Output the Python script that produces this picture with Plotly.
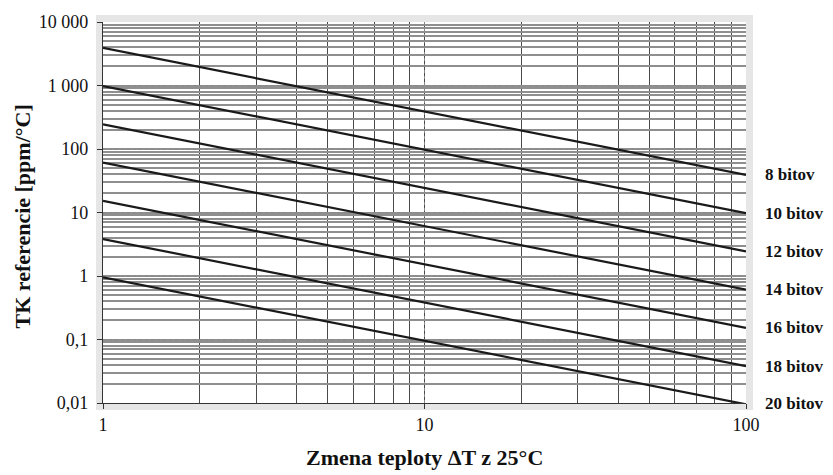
import math
import plotly.graph_objects as go

# Temperature change from 25 °C (x) and reference temperature coefficient (y)
delta_t = [1, 100]
bits_labels = ["8 bitov", "10 bitov", "12 bitov", "14 bitov", "16 bitov", "18 bitov", "20 bitov"]
tk_8 = [3906, 39.06]
tk_10 = [976.6, 9.766]
tk_12 = [244.1, 2.441]
tk_14 = [61.04, 0.6104]
tk_16 = [15.26, 0.1526]
tk_18 = [3.815, 0.03815]
tk_20 = [0.9537, 0.009537]
series = [tk_8, tk_10, tk_12, tk_14, tk_16, tk_18, tk_20]

y_tickvals = [0.01, 0.1, 1, 10, 100, 1000, 10000]
y_ticktext = ["0,01", "0,1", "1", "10", "100", "1 000", "10 000"]
x_tickvals = [1, 10, 100]
x_ticktext = ["1", "10", "100"]
y_range = [-2, 4]

FONT = "Liberation Serif, Times New Roman, serif"

W, H = 833, 475
ml, mr, mt, mb = 103, 87, 18, 72
pw, ph = W - ml - mr, H - mt - mb

fig = go.Figure()
for name, vals in zip(bits_labels, series):
    fig.add_trace(go.Scatter(
        x=delta_t, y=vals, mode="lines", name=name,
        line=dict(color="#1a1a1a", width=2.2), showlegend=False,
    ))

# Series labels to the right of the plot, level with each line's end value
for name, vals in zip(bits_labels, series):
    ypos = (math.log10(vals[-1]) - y_range[0]) / (y_range[1] - y_range[0])
    fig.add_annotation(
        x=1, xref="paper", y=max(ypos, 0.0), yref="paper",
        text="<b>" + name + "</b>", showarrow=False,
        xanchor="left", yanchor="middle", xshift=17,
        font=dict(family=FONT, size=17, color="#111"),
    )

# Axis titles
fig.add_annotation(
    x=0.5, xref="paper", y=(403 - 458) / ph, yref="paper",
    text="<b>Zmena teploty ΔT z 25°C</b>", showarrow=False,
    xanchor="center", yanchor="middle",
    font=dict(family=FONT, size=22, color="#111"),
)
fig.add_annotation(
    x=(22 - ml) / pw, xref="paper", y=0.5, yref="paper", yshift=-4,
    text="<b>TK referencie [ppm/°C]</b>", showarrow=False, textangle=-90,
    xanchor="center", yanchor="middle",
    font=dict(family=FONT, size=22, color="#111"),
)

# Light grey frame around the plot area
pad = 7
fig.add_shape(
    type="rect", xref="paper", yref="paper", layer="below",
    x0=-pad / pw, x1=1 + pad / pw, y0=-pad / ph, y1=1 + pad / ph,
    line=dict(width=0), fillcolor="#e6e6e6",
)
fig.add_shape(
    type="rect", xref="paper", yref="paper", layer="below",
    x0=0, x1=1, y0=0, y1=1, line=dict(width=0), fillcolor="white",
)

fig.update_xaxes(
    type="log", range=[0, 2],
    tickvals=x_tickvals, ticktext=x_ticktext,
    tickfont=dict(family=FONT, size=18, color="#111"),
    showline=True, linecolor="#333", linewidth=1.2,
    ticks="outside", ticklen=5, tickcolor="#333", ticklabelstandoff=0,
    showgrid=True, gridcolor="#888", gridwidth=1, griddash="dot",
    minor=dict(dtick="D1", showgrid=True, gridcolor="#4a4a4a", gridwidth=1.3,
               griddash="solid", ticks=""),
    zeroline=False,
)
fig.update_yaxes(
    type="log", range=y_range,
    tickvals=y_tickvals, ticktext=y_ticktext,
    tickfont=dict(family=FONT, size=18, color="#111"),
    showline=True, linecolor="#333", linewidth=1.2,
    ticks="outside", ticklen=5, tickcolor="#333", ticklabelstandoff=5,
    showgrid=True, gridcolor="#888", gridwidth=1, griddash="dot",
    minor=dict(dtick="D1", showgrid=True, gridcolor="#8f8f8f", gridwidth=1.6,
               griddash="solid", ticks=""),
    zeroline=False,
)

fig.update_layout(
    width=W, height=H,
    margin=dict(l=ml, r=mr, t=mt, b=mb),
    paper_bgcolor="white", plot_bgcolor="rgba(0,0,0,0)",
    font=dict(family=FONT),
)

fig.write_html("out.html")
